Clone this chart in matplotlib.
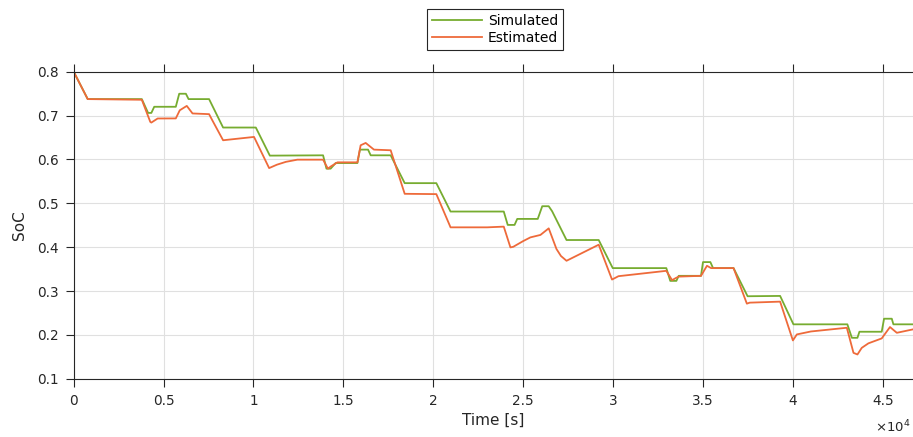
"""SoC: simulated vs. estimated over time."""
import matplotlib
matplotlib.use("Agg")
import matplotlib.pyplot as plt
from matplotlib.ticker import FuncFormatter

# breakpoints (time in s, SoC)
t_sim = [0, 780, 3790, 4140, 4320, 4480, 5680, 5870, 6240, 6390, 7530, 8310,
         10130, 10910, 13870, 14060, 14290, 14570, 15780, 15920, 16370, 16520,
         17630, 18410, 20170, 20960, 23920, 24140, 24520, 24670, 25810, 26060,
         26420, 26610, 27410, 29200, 29980, 32960, 33180, 33520, 33650, 34890,
         35000, 35410, 35560, 36700, 37480, 39290, 40030, 43030, 43280, 43590,
         43700, 44940, 45070, 45500, 45590, 46680]
soc_sim = [0.800, 0.7375, 0.7375, 0.706, 0.706, 0.720, 0.720, 0.7497, 0.7497,
           0.7375, 0.7375, 0.6727, 0.6727, 0.6087, 0.6094, 0.579, 0.579, 0.5918,
           0.5918, 0.6224, 0.6224, 0.6094, 0.6094, 0.546, 0.546, 0.4813, 0.4813,
           0.4508, 0.4508, 0.4645, 0.4645, 0.4934, 0.4934, 0.4819, 0.4164,
           0.4164, 0.3524, 0.3524, 0.3233, 0.3233, 0.3348, 0.3348, 0.3661,
           0.3661, 0.3524, 0.3524, 0.2883, 0.289, 0.2243, 0.2243, 0.1936, 0.1936,
           0.2074, 0.2074, 0.2371, 0.2371, 0.2243, 0.2243]

t_est = [0, 780, 3790, 4260, 4320, 4670, 5680, 5900, 6290, 6610, 7530, 7700,
         8310, 10030, 10870, 11300, 11800, 12440, 13870, 14140, 14300, 14670,
         15780, 15960, 16240, 16700, 17630, 18410, 20170, 20960, 23000, 23920,
         24290, 24450, 25000, 25400, 25960, 26420, 26850, 27100, 27410, 29200,
         29940, 30300, 32960, 33280, 33500, 33650, 34890, 35220, 35450, 36700,
         37440, 37600, 39290, 40000, 40220, 41000, 43000, 43370, 43590, 43830,
         44200, 44940, 45400, 45780, 46680]
soc_est = [0.800, 0.7375, 0.736, 0.6856, 0.684, 0.6933, 0.6935, 0.712, 0.722,
           0.7048, 0.7032, 0.690, 0.6437, 0.6513, 0.5803, 0.5880, 0.5945,
           0.5995, 0.5995, 0.579, 0.584, 0.5934, 0.5934, 0.6323, 0.6376, 0.6224,
           0.6209, 0.5217, 0.521, 0.4453, 0.4453, 0.4469, 0.3996, 0.401, 0.414,
           0.4224, 0.428, 0.443, 0.396, 0.380, 0.3691, 0.4057, 0.3263, 0.334,
           0.3462, 0.325, 0.330, 0.333, 0.3348, 0.3577, 0.3524, 0.3524, 0.2714,
           0.2737, 0.276, 0.1876, 0.2013, 0.2080, 0.2165, 0.1593, 0.1556, 0.1707,
           0.1810, 0.1922, 0.2181, 0.205, 0.2128]

plt.rcParams["font.family"] = ["DejaVu Sans"]
plt.rcParams["mathtext.fontset"] = "dejavusans"
TXT = "#262626"

fig = plt.figure(figsize=(9.13, 4.37), dpi=100)
ax = fig.add_axes([0.0807, 0.133, 0.9193, 0.703])

ax.plot(t_sim, soc_sim, color="#77AC30", lw=1.3, label="Simulated")
ax.plot(t_est, soc_est, color="#EE6A3A", lw=1.3, label="Estimated")

ax.set_xlim(0, 46680)
ax.set_ylim(0.1, 0.8)
ax.set_xticks([i * 5000 for i in range(10)])
ax.set_yticks([0.1 + 0.1 * i for i in range(8)])
ax.yaxis.set_major_formatter(plt.FormatStrFormatter("%.1f"))
ax.xaxis.set_major_formatter(FuncFormatter(lambda v, p: f"{v / 1e4:g}"))

ax.grid(True, color="#E0E0E0", lw=0.8)
ax.set_axisbelow(True)
for side in ("left", "bottom", "top"):
    ax.spines[side].set_color(TXT)
    ax.spines[side].set_linewidth(0.8)
ax.spines["right"].set_visible(False)
ax.tick_params(colors=TXT, direction="out", length=6, width=0.8, pad=5,
               top=True, labelsize=9.8)

ax.set_xlabel("Time [s]", color=TXT, fontsize=11, labelpad=3)
ax.set_ylabel("SoC", color=TXT, fontsize=11, labelpad=7)

# MATLAB-style exponent label under the right end of the x axis
ax.text(0.997, -0.158, r"$\times$10$^4$", transform=ax.transAxes,
        ha="right", va="center", fontsize=9.5, color=TXT, clip_on=False)

leg = ax.legend(loc="lower center", bbox_to_anchor=(0.502, 1.048),
                handlelength=3.6, labelspacing=0.25, borderpad=0.35,
                handletextpad=0.4, fancybox=False, framealpha=1, fontsize=10)
leg.get_frame().set_edgecolor(TXT)
leg.get_frame().set_linewidth(0.8)

fig.savefig("out.png", dpi=100)
